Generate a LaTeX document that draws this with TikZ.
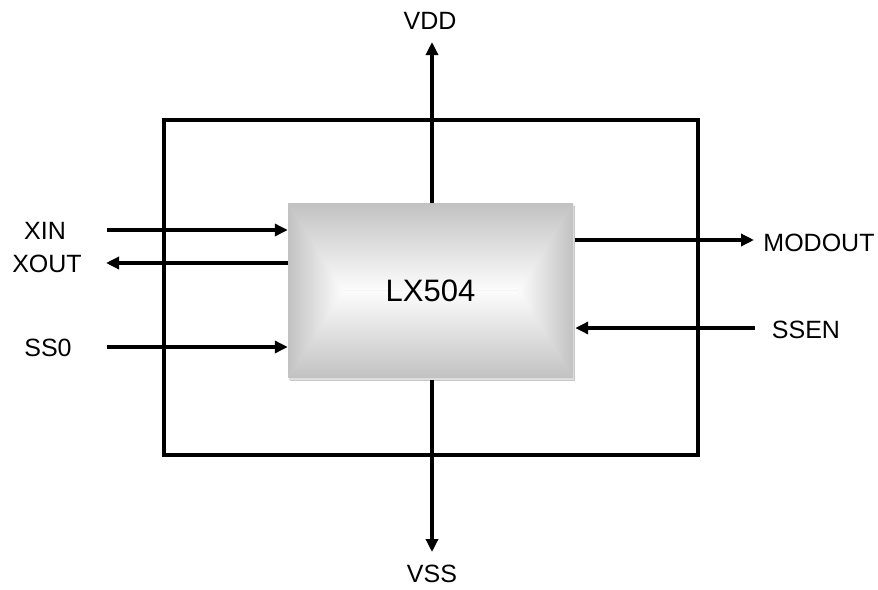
\documentclass[tikz,border=0pt]{standalone}
\usepackage{fontspec}
\setmainfont{Liberation Sans}
\usetikzlibrary{arrows.meta}
\begin{document}
\begin{tikzpicture}[x=1pt,y=-1pt,
  wire/.style={line width=3.6pt,-{Triangle[length=13pt,width=12pt]}},
  lbl/.style={font=\fontsize{25}{28}\selectfont,inner sep=0.5pt},
  frame/.style={draw,line width=3.6pt,minimum width=534pt,minimum height=335pt,inner sep=0pt},
  chipbox/.style={minimum width=285pt,minimum height=175pt,inner sep=0pt,font=\fontsize{31}{36}\selectfont}]
\useasboundingbox (0,0) rectangle (878,589);
\node[frame] (outer) at (431,287.5) {};
% shadow
\fill[black!22] (290,206) rectangle (575,381);
\fill[black!12] (289,205) rectangle (574,380);
% bevel shading
\definecolor{edge}{gray}{0.76}
\definecolor{mid}{gray}{0.99}
\begin{scope}
\clip (288,203) -- (573,203) -- (518,290.5) -- (343,290.5) -- cycle;
\shade[top color=edge,bottom color=mid] (288,203) rectangle (573,290.5);
\end{scope}
\begin{scope}
\clip (288,378) -- (573,378) -- (518,290.5) -- (343,290.5) -- cycle;
\shade[bottom color=edge,top color=mid] (288,290.5) rectangle (573,378);
\end{scope}
\begin{scope}
\clip (288,203) -- (343,290.5) -- (288,378) -- cycle;
\shade[left color=edge,right color=mid] (288,203) rectangle (343,378);
\end{scope}
\begin{scope}
\clip (573,203) -- (518,290.5) -- (573,378) -- cycle;
\shade[right color=edge,left color=mid] (518,203) rectangle (573,378);
\end{scope}
\node[chipbox] (chip) at (430.5,290.5) {LX504};
% labels
\node[lbl] (xin) at (45,231) {XIN};
\node[lbl] (xout) at (47,264) {XOUT};
\node[lbl] (sso) at (48,348) {SS0};
\node[lbl] (modout) at (819,243) {MODOUT};
\node[lbl] (ssen) at (806,330) {SSEN};
\node[lbl] (vdd) at (430,21) {VDD};
\node[lbl] (vss) at (432,574) {VSS};
% free ends
\coordinate (xinS) at (107,230);
\coordinate (xoutE) at (106,263);
\coordinate (ssoS) at (107,347);
\coordinate (modE) at (754,240);
\coordinate (ssenS) at (755,328);
\coordinate (vddE) at (432,42);
\coordinate (vssE) at (432,552);
% connectors
\draw[wire] (xinS) -- (xinS -| chip.west);
\draw[wire] (xoutE -| chip.west) -- (xoutE);
\draw[wire] (ssoS) -- (ssoS -| chip.west);
\draw[wire] (modE -| chip.east) ++(2,0) -- (modE);
\draw[wire] (ssenS) -- ([xshift=2pt]ssenS -| chip.east);
\draw[wire] (vddE |- chip.north) -- (vddE);
\draw[wire] (vssE |- chip.south) ++(0,2) -- (vssE);
\end{tikzpicture}
\end{document}
